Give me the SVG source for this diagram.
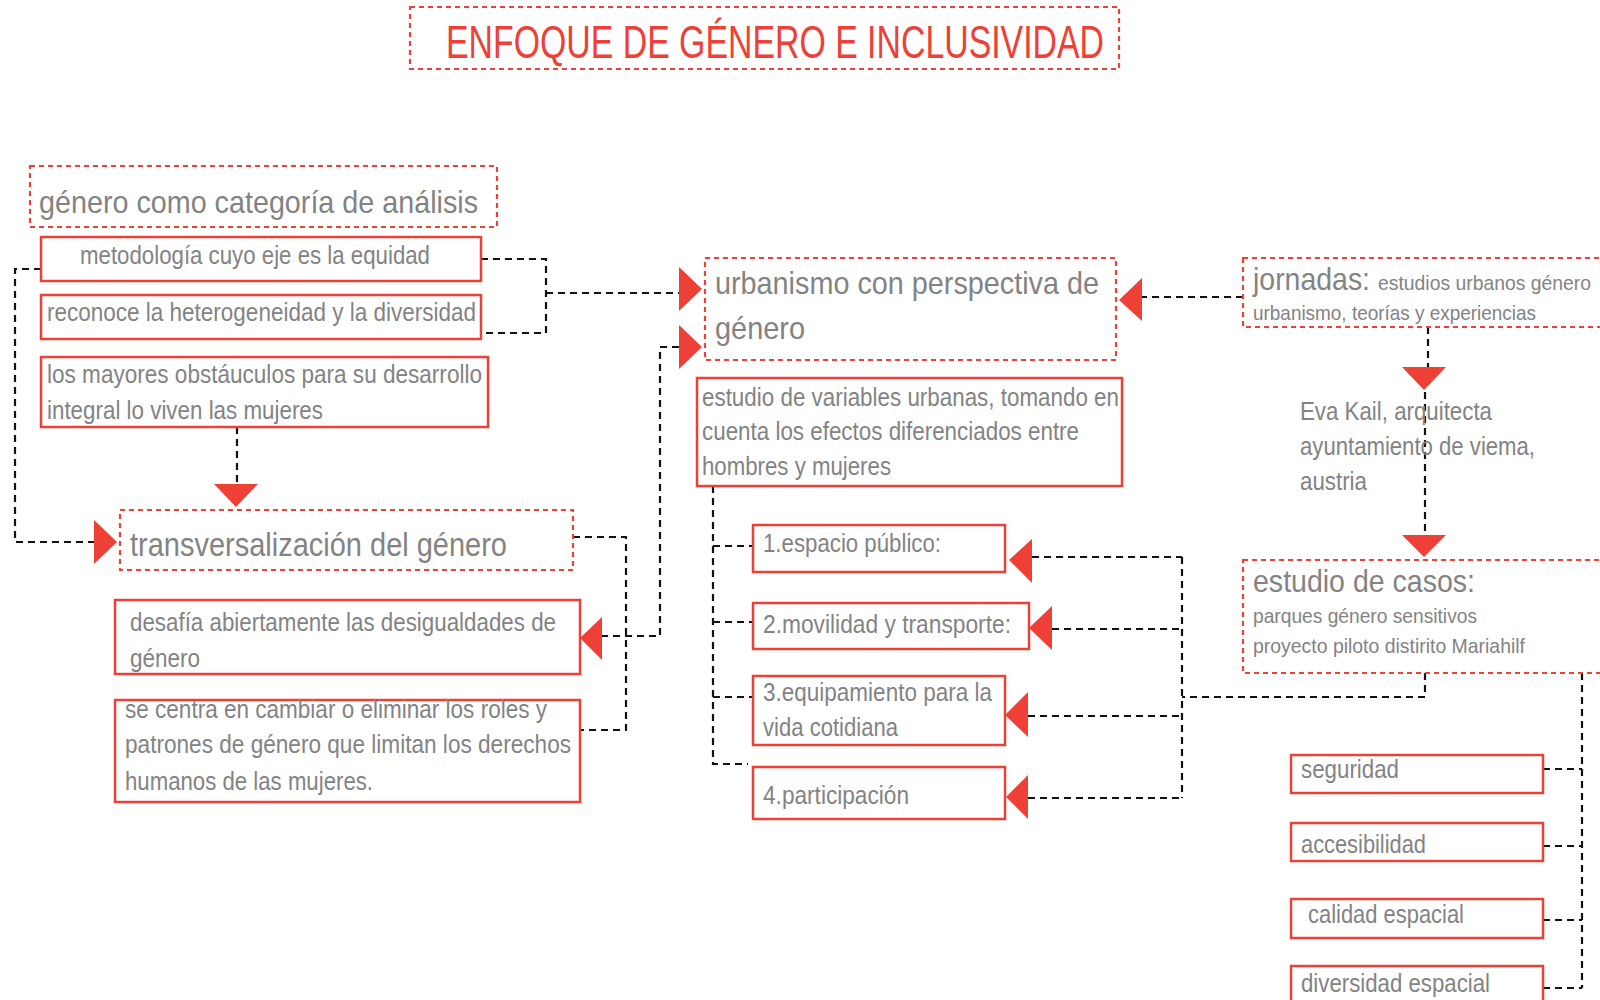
<svg xmlns="http://www.w3.org/2000/svg" width="1600" height="1000" viewBox="0 0 1600 1000">
<style>
.bg{fill:#fff}
.dot{fill:none;stroke:#ee4036;stroke-width:2.2;stroke-dasharray:5 4}
.box{fill:#fff;stroke:#ee4036;stroke-width:2.5}
.t{font-family:"Liberation Sans",Arial,sans-serif;fill:#838383}
.title{font-family:"Liberation Sans",Arial,sans-serif;fill:#ee4036;font-size:47px}
.c{fill:none;stroke:#111;stroke-width:2.2;stroke-dasharray:7 5}
.a{fill:#ee4036}
</style>
<rect class="bg" x="0" y="0" width="1600" height="1000"/>

<g id="connectors">
  <path class="c" d="M41,269 H15 V542 H94"/>
  <polygon class="a" points="94,520 94,564 117,542"/>
  <path class="c" d="M237,427 V484"/>
  <polygon class="a" points="214,484 258,484 236,507"/>
  <path class="c" d="M481,259 H546 V333 H481 M546,293 H679"/>
  <polygon class="a" points="679,267 679,311 702,289"/>
  <path class="c" d="M679,347 H660 V636 H602"/>
  <polygon class="a" points="679,325 679,369 702,347"/>
  <polygon class="a" points="602,617 602,660 580,638"/>
  <path class="c" d="M573,537 H626 V730 H580"/>
  <path class="c" d="M1243,297 H1142"/>
  <polygon class="a" points="1142,278 1142,321 1119,300"/>
  <path class="c" d="M713,486 V764 H748 M713,546 H753 M713,622 H753 M713,697 H753"/>
  <path class="c" d="M1425,673 V697 H1182 M1182,557 V798 M1032,557 H1182 M1052,629 H1182 M1028,716 H1182 M1028,798 H1182"/>
  <polygon class="a" points="1032,539 1032,583 1009,560"/>
  <polygon class="a" points="1052,606 1052,650 1029,628"/>
  <polygon class="a" points="1028,692 1028,737 1005,715"/>
  <polygon class="a" points="1028,775 1028,819 1006,797"/>
  <path class="c" d="M1428,327 V367 M1425,392 V535"/>
  <polygon class="a" points="1402,367 1446,367 1424,390"/>
  <polygon class="a" points="1402,535 1446,535 1424,557"/>
  <path class="c" d="M1582,673 V988 M1543,769 H1582 M1543,846 H1582 M1543,920 H1582 M1543,988 H1582"/>
</g>

<g id="title">
  <rect class="dot" x="410" y="7" width="709" height="62"/>
  <text class="title" x="446" y="58" textLength="658" lengthAdjust="spacingAndGlyphs">ENFOQUE DE GÉNERO E INCLUSIVIDAD</text>
</g>

<g id="genero-categoria">
  <rect class="dot" x="30" y="166" width="467" height="61"/>
  <text class="t" x="39" y="213" font-size="32" textLength="439" lengthAdjust="spacingAndGlyphs">género como categoría de análisis</text>
</g>
<g id="metodologia">
  <rect class="box" x="41" y="237" width="440" height="44"/>
  <text class="t" x="80" y="264" font-size="25" textLength="350" lengthAdjust="spacingAndGlyphs">metodología cuyo eje es la equidad</text>
</g>
<g id="reconoce">
  <rect class="box" x="41" y="295" width="440" height="44"/>
  <text class="t" x="47" y="321" font-size="25" textLength="429" lengthAdjust="spacingAndGlyphs">reconoce la heterogeneidad y la diversidad</text>
</g>
<g id="obstaculos">
  <rect class="box" x="41" y="357" width="447" height="70"/>
  <text class="t" x="47" y="383" font-size="25" textLength="435" lengthAdjust="spacingAndGlyphs">los mayores obstáuculos para su desarrollo</text>
  <text class="t" x="47" y="419" font-size="25" textLength="276" lengthAdjust="spacingAndGlyphs">integral lo viven las mujeres</text>
</g>
<g id="transversalizacion">
  <rect class="dot" x="120" y="510" width="453" height="60"/>
  <text class="t" x="130" y="556" font-size="33" textLength="377" lengthAdjust="spacingAndGlyphs">transversalización del género</text>
</g>
<g id="desafia">
  <rect class="box" x="115" y="600" width="465" height="74"/>
  <text class="t" x="130" y="631" font-size="25" textLength="426" lengthAdjust="spacingAndGlyphs">desafía abiertamente las desigualdades de</text>
  <text class="t" x="130" y="667" font-size="25" textLength="70" lengthAdjust="spacingAndGlyphs">género</text>
</g>
<g id="se-centra">
  <rect class="box" x="115" y="700" width="465" height="102"/>
  <text class="t" x="125" y="718" font-size="25" textLength="422" lengthAdjust="spacingAndGlyphs">se centra en cambiar o eliminar los roles y</text>
  <text class="t" x="125" y="753" font-size="25" textLength="446" lengthAdjust="spacingAndGlyphs">patrones de género que limitan los derechos</text>
  <text class="t" x="125" y="790" font-size="25" textLength="248" lengthAdjust="spacingAndGlyphs">humanos de las mujeres.</text>
</g>

<g id="urbanismo">
  <rect class="dot" x="705" y="258" width="411" height="102"/>
  <text class="t" x="715" y="294" font-size="32" textLength="384" lengthAdjust="spacingAndGlyphs">urbanismo con perspectiva de</text>
  <text class="t" x="715" y="339" font-size="32" textLength="90" lengthAdjust="spacingAndGlyphs">género</text>
</g>
<g id="variables">
  <rect class="box" x="697" y="378" width="425" height="108"/>
  <text class="t" x="702" y="406" font-size="25" textLength="417" lengthAdjust="spacingAndGlyphs">estudio de variables urbanas, tomando en</text>
  <text class="t" x="702" y="440" font-size="25" textLength="377" lengthAdjust="spacingAndGlyphs">cuenta los efectos diferenciados entre</text>
  <text class="t" x="702" y="475" font-size="25" textLength="189" lengthAdjust="spacingAndGlyphs">hombres y mujeres</text>
</g>
<g id="espacio-publico">
  <rect class="box" x="753" y="525" width="252" height="47"/>
  <text class="t" x="763" y="552" font-size="26" textLength="178" lengthAdjust="spacingAndGlyphs">1.espacio público:</text>
</g>
<g id="movilidad">
  <rect class="box" x="753" y="603" width="276" height="46"/>
  <text class="t" x="763" y="633" font-size="26" textLength="248" lengthAdjust="spacingAndGlyphs">2.movilidad y transporte:</text>
</g>
<g id="equipamiento">
  <rect class="box" x="753" y="676" width="252" height="69"/>
  <text class="t" x="763" y="701" font-size="26" textLength="229" lengthAdjust="spacingAndGlyphs">3.equipamiento para la</text>
  <text class="t" x="763" y="736" font-size="26" textLength="135" lengthAdjust="spacingAndGlyphs">vida cotidiana</text>
</g>
<g id="participacion">
  <rect class="box" x="753" y="767" width="252" height="52"/>
  <text class="t" x="763" y="804" font-size="26" textLength="146" lengthAdjust="spacingAndGlyphs">4.participación</text>
</g>

<g id="jornadas">
  <rect class="dot" x="1243" y="258" width="370" height="69"/>
  <text class="t" x="1253" y="290" font-size="32" textLength="117" lengthAdjust="spacingAndGlyphs">jornadas:</text>
  <text class="t" x="1378" y="290" font-size="21" textLength="213" lengthAdjust="spacingAndGlyphs">estudios urbanos género</text>
  <text class="t" x="1253" y="320" font-size="21" textLength="283" lengthAdjust="spacingAndGlyphs">urbanismo, teorías y experiencias</text>
</g>
<g id="eva-kail">
  <text class="t" x="1300" y="420" font-size="26" textLength="192" lengthAdjust="spacingAndGlyphs">Eva Kail, arquitecta</text>
  <text class="t" x="1300" y="455" font-size="26" textLength="235" lengthAdjust="spacingAndGlyphs">ayuntamiento de viema,</text>
  <text class="t" x="1300" y="490" font-size="26" textLength="67" lengthAdjust="spacingAndGlyphs">austria</text>
</g>
<g id="estudio-casos">
  <rect class="dot" x="1243" y="560" width="370" height="113"/>
  <text class="t" x="1253" y="592" font-size="32" textLength="222" lengthAdjust="spacingAndGlyphs">estudio de casos:</text>
  <text class="t" x="1253" y="623" font-size="21" textLength="224" lengthAdjust="spacingAndGlyphs">parques género sensitivos</text>
  <text class="t" x="1253" y="653" font-size="21" textLength="272" lengthAdjust="spacingAndGlyphs">proyecto piloto distirito Mariahilf</text>
</g>
<g id="seguridad">
  <rect class="box" x="1291" y="755" width="252" height="38"/>
  <text class="t" x="1301" y="778" font-size="25" textLength="98" lengthAdjust="spacingAndGlyphs">seguridad</text>
</g>
<g id="accesibilidad">
  <rect class="box" x="1291" y="823" width="252" height="38"/>
  <text class="t" x="1301" y="853" font-size="25" textLength="125" lengthAdjust="spacingAndGlyphs">accesibilidad</text>
</g>
<g id="calidad-espacial">
  <rect class="box" x="1291" y="899" width="252" height="39"/>
  <text class="t" x="1308" y="923" font-size="25" textLength="156" lengthAdjust="spacingAndGlyphs">calidad espacial</text>
</g>
<g id="diversidad-espacial">
  <rect class="box" x="1291" y="966" width="252" height="45"/>
  <text class="t" x="1301" y="992" font-size="25" textLength="189" lengthAdjust="spacingAndGlyphs">diversidad espacial</text>
</g>
</svg>
